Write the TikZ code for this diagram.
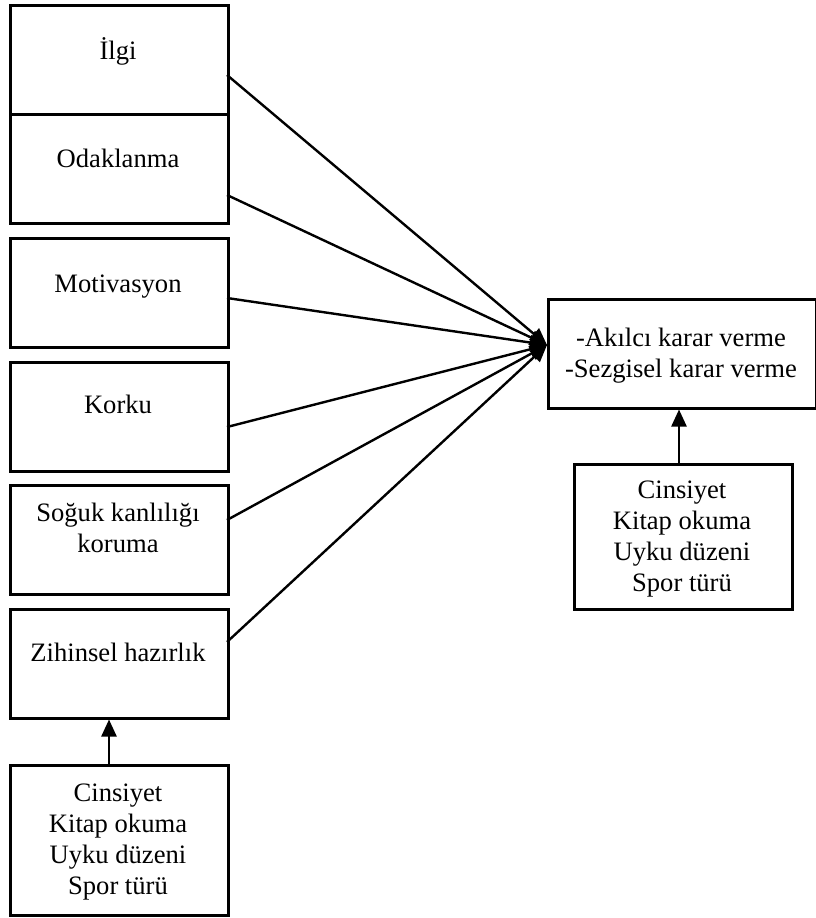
\documentclass[tikz,border=0pt]{standalone}
\usepackage{fontspec}
\setmainfont{Liberation Serif}
\usetikzlibrary{arrows.meta}
\begin{document}
\begin{tikzpicture}[x=1pt,y=-1pt,
  box/.style={draw,line width=2.5pt,minimum width=218pt,minimum height=109pt,inner sep=0pt,anchor=north west},
  txt/.style={font=\fontsize{26.6}{31}\selectfont,align=center,inner sep=0pt,anchor=base},
  conn/.style={line width=2.4pt,-{Triangle[length=17pt,width=15pt]}}]
\useasboundingbox (0,0) rectangle (816,918);
% left column boxes
\node[box] (ilgi) at (9,4) {};
\node[box] (odak) at (9,113) {};
\node[box] (moti) at (9,237) {};
\node[box] (kork) at (9,361) {};
\node[box] (sogk) at (9,484) {};
\node[box] (zihn) at (9,608) {};
\node[box,minimum height=150pt] (demL) at (9,764) {};
% right boxes
\node[box,minimum width=268pt] (res) at (547,298) {};
\node[box,minimum height=145pt] (demR) at (573,463) {};
% texts (anchor base = baseline of last line)
\node[txt] (t1) at (118,59) {İlgi};
\node[txt] (t2) at (118,167) {Odaklanma};
\node[txt] (t3) at (118,292) {Motivasyon};
\node[txt] (t4) at (118,413) {Korku};
\node[txt] (t5) at (118,552) {Soğuk kanlılığı\\koruma};
\node[txt] (t6) at (118,661) {Zihinsel hazırlık};
\node[txt] (t7) at (118,894) {Cinsiyet\\Kitap okuma\\Uyku düzeni\\Spor türü};
\node[txt] (t8) at (681,377) {-Akılcı karar verme\\-Sezgisel karar verme};
\node[txt] (t9) at (682,591) {Cinsiyet\\Kitap okuma\\Uyku düzeni\\Spor türü};
% connector endpoints
\coordinate (tip) at (547,345);
\coordinate (s1) at (227,75);
\coordinate (s2) at (227,195);
\coordinate (s3) at (227,298);
\coordinate (s4) at (227,427);
\coordinate (s5) at (227,520);
\coordinate (s6) at (227,642);
\draw[conn] (s1) -- (tip);
\draw[conn] (s2) -- (tip);
\draw[conn] (s3) -- (tip);
\draw[conn] (s4) -- (tip);
\draw[conn] (s5) -- (tip);
\draw[conn] (s6) -- (tip);
\draw[conn] (demR.north -| 679,0) -- (res.south -| 679,0);
\draw[conn] (demL.north -| 109,0) -- (zihn.south -| 109,0);
\end{tikzpicture}
\end{document}
